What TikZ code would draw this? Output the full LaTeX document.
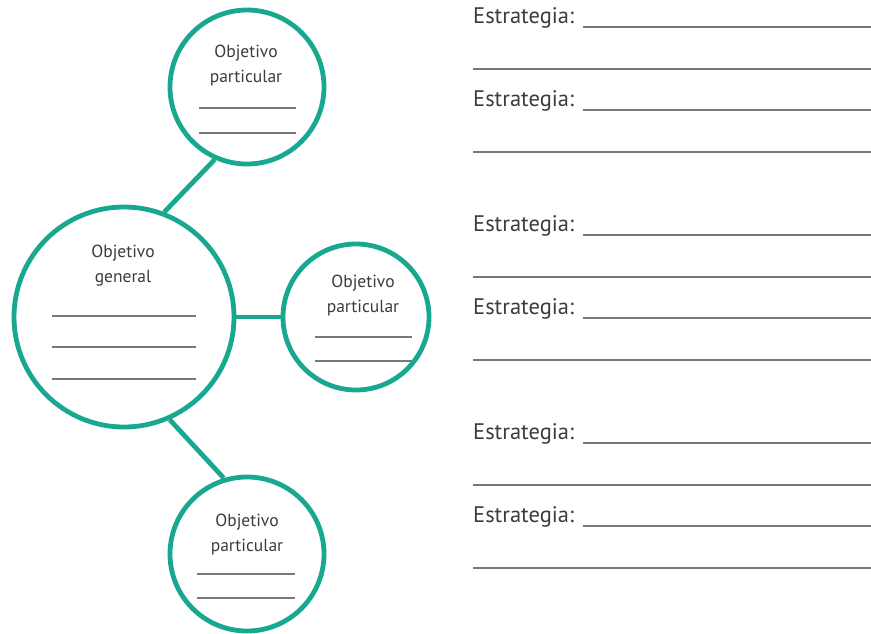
\documentclass[tikz,border=0pt]{standalone}
\usepackage{fontspec}
\setmainfont{PT Sans}
\definecolor{teal1}{RGB}{24,168,143}
\definecolor{txtgray}{RGB}{60,60,60}
\definecolor{lngray}{RGB}{120,120,120}
\begin{document}
\begin{tikzpicture}[x=1pt,y=-1pt,
  ring/.style={circle,draw=teal1,line width=4.8pt,inner sep=0pt,fill=white},
  link/.style={draw=teal1,line width=4.8pt},
  ctext/.style={align=center,text=txtgray,font=\fontsize{17.5}{25}\selectfont,inner sep=0pt},
  blank/.style={draw=lngray,line width=1.3pt},
  stext/.style={anchor=base west,text=txtgray,font=\fontsize{22.5}{26}\selectfont,inner sep=0pt},
  sline/.style={draw=lngray,line width=1.8pt}]
\useasboundingbox (0,0) rectangle (871,633);
% circles
\node[ring,minimum size=154pt] (top) at (247,87) {};
\node[ring,minimum size=220pt] (big) at (124,317) {};
\node[ring,minimum size=146pt] (right) at (356,317) {};
\node[ring,minimum size=154pt] (bot) at (247,554) {};
% connectors
\draw[link] (big.69) -- (top.246);
\draw[link] (big.0) -- (right.180);
\draw[link] (big.-66) -- (bot.107);
% texts in circles
\node[ctext] (ttop) at (246,66) {Objetivo\\particular};
\node[ctext] (tbig) at (123,266) {Objetivo\\general};
\node[ctext] (tright) at (363,296) {Objetivo\\particular};
\node[ctext] (tbot) at (247,535) {Objetivo\\particular};
% blanks
\draw[blank] (199,108) -- (296,108);
\draw[blank] (199,133) -- (296,133);
\draw[blank] (52,316) -- (196,316);
\draw[blank] (52,347) -- (196,347);
\draw[blank] (52,379) -- (196,379);
\draw[blank] (315,337) -- (412,337);
\draw[blank] (315,361) -- (412,361);
\draw[blank] (197,574) -- (295,574);
\draw[blank] (197,598) -- (295,598);
% strategies
\foreach \y [count=\i] in {27,110,235,318,443,526} {
  \node[stext] (s\i) at (473,\y-4) {Estrategia:};
  \draw[sline] (583,\y) -- (871,\y);
  \draw[sline] (473,\y+42) -- (871,\y+42);
}
\end{tikzpicture}
\end{document}
